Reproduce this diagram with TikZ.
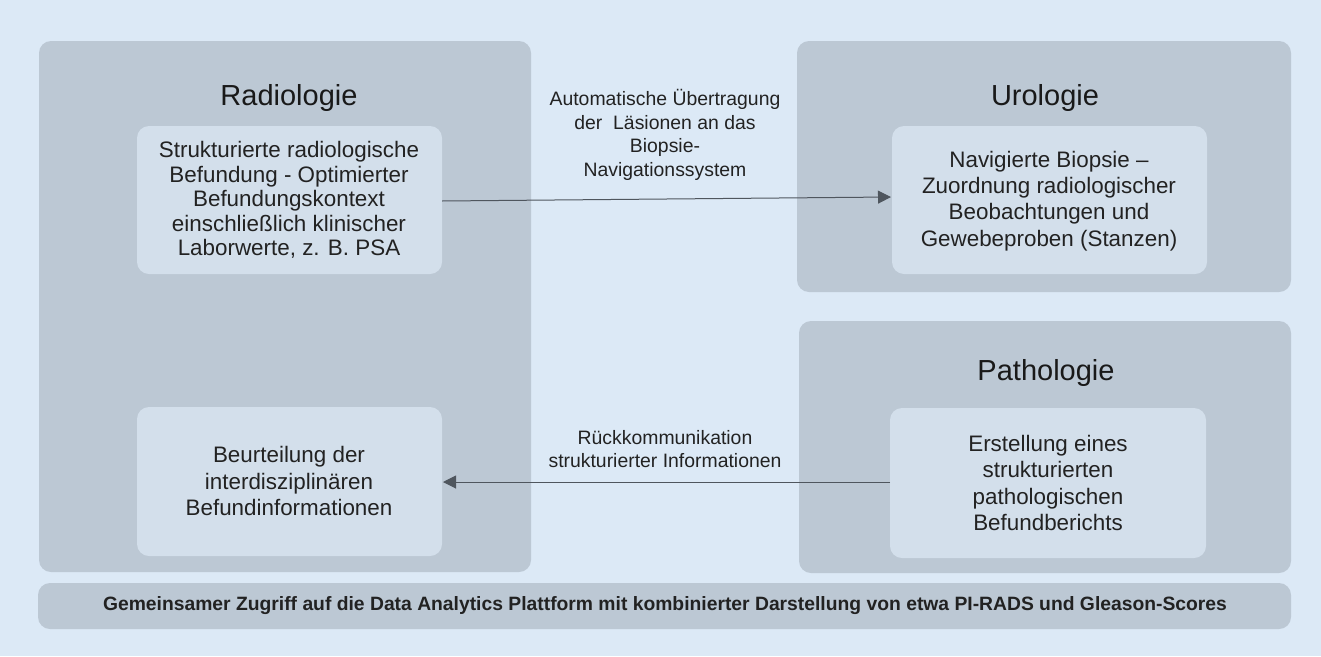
\documentclass[tikz,border=0pt]{standalone}
\usepackage{fontspec}
\setmainfont{Liberation Sans}
\usetikzlibrary{arrows.meta}
\definecolor{bgblue}{HTML}{DCE9F6}
\definecolor{panel}{HTML}{BCC8D4}
\definecolor{inner}{HTML}{D3DFEB}
\definecolor{txt}{HTML}{222222}
\definecolor{arrowc}{HTML}{4F565E}
\tikzset{
  panelbox/.style={fill=panel, rounded corners=12pt, draw=none},
  innerbox/.style={fill=inner, rounded corners=12pt, draw=none},
  title/.style={font=\fontsize{29}{32}\selectfont, text=black!90, anchor=center},
  boxtext/.style={font=\fontsize{22.4}{26.2}\selectfont, text=txt, align=center, anchor=center},
  densetext/.style={boxtext, font=\fontsize{22.4}{24.6}\selectfont},
  label/.style={font=\fontsize{19.4}{23.5}\selectfont, text=txt, align=center, anchor=center},
  flow/.style={draw=arrowc, line width=1pt, -{Triangle[length=13pt,width=13pt]}},
}
\begin{document}
\begin{tikzpicture}[x=1pt,y=-1pt]
  % canvas
  \fill[bgblue] (0,0) rectangle (1321,656);
  \useasboundingbox (0,0) rectangle (1321,656);

  % department panels
  \fill[panelbox] (39,41) rectangle (531,572);
  \fill[panelbox] (797,41) rectangle (1291,292);
  \fill[panelbox] (799,321) rectangle (1291,573);
  \fill[panelbox] (38,583) rectangle (1291,629);

  \node[title] (tRad) at (289,98) {Radiologie};
  \node[title] (tUro) at (1045,98) {Urologie};
  \node[title] (tPat) at (1046,373) {Pathologie};

  % inner boxes
  \fill[innerbox] (137,126) rectangle (442,274);
  \node[densetext] (radText) at (289,200) {Strukturierte radiologische\\Befundung - Optimierter\\Befundungskontext\\einschließlich klinischer\\Laborwerte, z. B. PSA};

  \fill[innerbox] (137,407) rectangle (442,556);
  \node[boxtext] (radEval) at (289,481) {Beurteilung der\\interdisziplinären\\Befundinformationen};

  \fill[innerbox] (892,126) rectangle (1207,274);
  \node[boxtext] (uroText) at (1049,201) {Navigierte Biopsie –\\Zuordnung radiologischer\\Beobachtungen und\\Gewebeproben (Stanzen)};

  \fill[innerbox] (890,408) rectangle (1206,558);
  \node[boxtext] (patText) at (1048,483) {Erstellung eines\\strukturierten\\pathologischen\\Befundberichts};

  % connector end points on the inner box edges
  \coordinate (radOut) at (442,201);
  \coordinate (uroIn)  at (891,197);
  \coordinate (patOut) at (890,482);
  \coordinate (radIn)  at (443,482);

  \draw[flow] (radOut) -- (uroIn);
  \draw[flow] (patOut) -- (radIn);

  \node[label] (lblTop) at (665,135) {Automatische Übertragung\\der\ \ Läsionen an das\\Biopsie-\\Navigationssystem};
  \node[label] (lblBot) at (665,449) {Rückkommunikation\\strukturierter Informationen};

  \node[font=\bfseries\fontsize{19.3}{22}\selectfont, text=txt] (platform) at (665,606) {Gemeinsamer Zugriff auf die Data Analytics Plattform mit kombinierter Darstellung von etwa PI-RADS und Gleason-Scores};
\end{tikzpicture}
\end{document}
